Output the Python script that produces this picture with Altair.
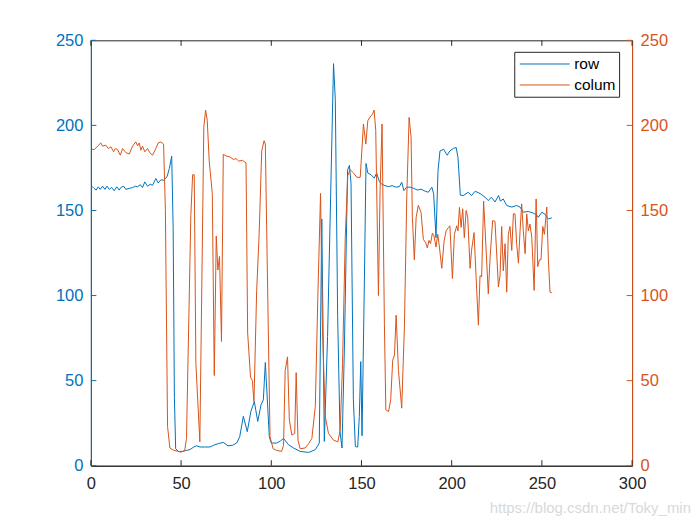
import altair as alt
import pandas as pd

# ---------------- data ----------------
row_x = [0.5, 1.7, 2.9, 4.1, 5.2, 6.5, 7.8, 8.9, 10.2, 11.5, 12.9, 14.4, 15.7, 16.6, 18.1, 19.4,
         21.3, 23.1, 24.9, 25.9, 27.4, 28.6, 29.9, 31.4, 32.9, 34.2, 36, 37.3, 38.8, 40.3, 42.2,
         43.5, 44.8, 45.6, 46.3, 47, 48.5, 51, 53, 55, 57, 58.6, 60.5, 63, 66, 68, 70.6, 73.4, 76,
         78.5, 80.8, 82.5, 84.5, 86.7, 88.7, 90.6, 92.5, 94.3, 95.6, 96.7, 98.9, 100, 103, 105,
         106.8, 109.6, 112.4, 116, 120.7, 124.4, 126.6, 128, 129.4, 131.2, 134.5, 135.5, 136.8,
         138.1, 139.2, 140.5, 142.3, 143.3, 144.2, 145.5, 146.6, 147.9, 148.8, 149.6, 150.3, 151.6,
         152.5, 153.5, 155.3, 157.1, 158.4, 159.9, 161, 163, 165, 167, 169, 171, 172.3, 173.5, 175,
         177, 179, 181, 183, 185, 187, 189, 190, 191.3, 192.4, 193.5, 195.5, 197.5, 199, 201, 202.5,
         203.5, 204.8, 206.5, 209.2, 211, 213, 215.7, 218.5, 220.3, 222, 224, 226, 227, 228.6,
         230.5, 233.3, 236, 237.9, 239.7, 242.5, 245.3, 247, 248, 250, 251.8, 253.6, 255.5]
row_y = [164.3, 163, 162, 163.9, 162.4, 164.3, 162.4, 164.3, 162.4, 163.5, 161.6, 163.9, 162, 163.5,
         164.3, 162.4, 163, 163.5, 164.3, 163.9, 165.2, 163.5, 166.8, 164.3, 165.4, 164.8, 168.8,
         166.2, 168, 167.8, 169.8, 174.7, 181.9, 140, 40, 10, 8.4, 8.4, 9, 9.5, 11, 11.7, 11, 11, 11,
         12, 13, 13.7, 11.7, 12, 13.3, 17, 29, 20, 32, 37.7, 26, 35.7, 38.7, 60.7, 17, 13.3, 13.3,
         14.5, 16, 12.3, 10.4, 8.4, 7.8, 9.4, 13.3, 145, 14.3, 75.9, 236.3, 214.8, 87.6, 20, 10.4,
         68, 173.7, 176.5, 166, 38.7, 11.2, 11, 29, 61.2, 17.6, 108, 177.6, 172, 171, 169, 172, 167,
         165.6, 164.6, 164, 164.6, 163.7, 164, 166.6, 161.7, 163.7, 163.7, 163, 162, 162.5, 161.5,
         160.7, 163.7, 159.8, 134, 173, 185, 186, 182.5, 185, 186.5, 187, 181, 159, 158.8, 160.7,
         158.8, 161.3, 160, 157.8, 155.8, 157.8, 155, 158.8, 155.5, 156.8, 152.9, 152, 152.9, 152,
         149, 149.4, 148.4, 147.5, 146, 149, 147.7, 145, 145.7]

colum_x = [0.5, 1.9, 3.7, 5.5, 6.5, 8.3, 9.6, 11.1, 12.6, 13.5, 14.8, 16.3, 17.6, 19.4, 21.3, 23.1,
           24.9, 25.9, 26.8, 27.7, 28.6, 29.9, 31.4, 32.9, 34.2, 36, 37.3, 38.8, 40.3, 41.3, 42.5,
           43.8, 46, 48, 50, 52, 53, 55.4, 56.4, 57.3, 58.2, 60.4, 62.6, 63.6, 64.5, 65.6, 67.3,
           68.4, 69.5, 70.4, 71.3, 72.4, 73.4, 75, 77, 79, 80.5, 82, 84, 86, 86.9, 88.5, 89.5, 90.4,
           91.9, 93.2, 94.7, 96, 96.7, 99.3, 101, 103, 105.7, 106.8, 107.7, 109, 110, 111.4, 113,
           113.8, 114.8, 116, 118.8, 120.7, 122.5, 124.4, 125.8, 127.3, 128.4, 129.9, 131.7, 134.5,
           136.9, 138.2, 139.5, 141, 142.4, 143.7, 145.6, 147.4, 149.3, 151.1, 152.4, 153.5, 154.8,
           156.1, 157, 157.9, 159.4, 160.3, 161.4, 162.7, 163.5, 165, 166.2, 167.3, 168.3, 169.2,
           170.5, 172.3, 173.8, 175.1, 176.4, 177.5, 178.2, 179.3, 180.3, 181.5, 183, 184.3, 185.6,
           186.5, 187.4, 188.3, 189.3, 190.2, 191.3, 192.3, 193.2, 194.5, 195.8, 196.9, 198.2, 199,
           200.4, 201.5, 202.8, 203.5, 204.3, 205.2, 206.1, 207, 208, 208.9, 210.2, 211, 212.4,
           213.5, 214.8, 215.7, 216.6, 217.7, 219, 220.3, 221.3, 222.7, 224, 224.9, 225.9, 226.8,
           227.7, 228.6, 229.6, 230.5, 231.4, 232.3, 233.3, 234.2, 235.1, 236, 237, 237.9, 238.8,
           239.7, 240.7, 241.6, 242.5, 243.4, 244.4, 245.7, 246.8, 247.7, 248.6, 249.5, 250.5,
           251.4, 252.7, 253.6, 254.5, 255.5]
colum_y = [186, 185.8, 187.8, 189.7, 187.8, 188.4, 186.4, 187.4, 184.5, 186.4, 185.8, 182.5, 186.4,
           184, 183.2, 187.8, 190.3, 188, 189.7, 185.4, 187.8, 184.5, 186.4, 183.6, 182.5, 186.4,
           189.7, 190.3, 189, 150, 23, 10.4, 9, 8.5, 8, 9, 16, 147, 171, 171, 60, 14, 199, 209, 203,
           179, 160, 53, 135, 115, 123, 73, 183, 182, 181.5, 180, 180.5, 179, 179.5, 178, 78, 52, 50,
           37.7, 103, 134, 185, 191, 189, 17, 10, 9, 8.4, 12, 56, 64, 27, 18, 19, 54.7, 15, 10, 10.4,
           13, 16, 34.8, 99, 160, 80, 29, 19, 15, 14, 21, 60, 134, 170.5, 174, 172, 169.5, 169.5,
           200.8, 189, 202.7, 205, 206.6, 209, 197, 100, 161.7, 200.8, 83.6, 32.8, 31.8, 38.7, 62,
           65, 88.5, 56, 33.8, 81.6, 158, 204.7, 193, 146, 121, 146, 153, 149, 133, 131, 128, 132.4,
           130.5, 136.7, 135, 128.5, 136, 128.5, 116, 132, 138, 140, 141, 110, 136, 141, 138, 151.8,
           140, 151, 134, 150, 146, 116, 126.5, 137, 111.7, 82.6, 111.7, 111, 155.5, 128.5, 101,
           122.6, 144, 143.7, 125.6, 105, 111.8, 140.6, 114.5, 130.5, 102, 136, 140.6, 126.5, 148,
           148, 130.5, 119, 138, 153.9, 138, 124.6, 148, 138, 142, 134, 103, 156.8, 117, 121, 121,
           140.6, 136, 152, 121, 102, 101.6]

x_ticks = [0, 50, 100, 150, 200, 250, 300]
y_ticks = [0, 50, 100, 150, 200, 250]
series_names = ["row", "colum"]
watermark = ["https://blog.csdn.net/Toky_min"]

# ---------------- styling ----------------
BLUE = "#0072BD"
ORANGE = "#D95319"
DARK = "#262626"
FONT = "Liberation Sans"
W, H = 542, 426
TICK = 5.5

row_df = pd.DataFrame({"x": row_x, "v": row_y})
col_df = pd.DataFrame({"x": colum_x, "v": colum_y})
xt_df = pd.DataFrame({"t": x_ticks})
yt_df = pd.DataFrame({"t": y_ticks})

x_scale = alt.Scale(domain=[0, 300], nice=False, zero=False)
y_scale = alt.Scale(domain=[0, 250], nice=False, zero=False)

x_axis = alt.Axis(values=x_ticks, title=None, grid=False, ticks=False, domainColor=DARK,
                  domainWidth=1, labelColor=DARK, labelFont=FONT, labelFontSize=16.5,
                  labelPadding=10, format="d", labelFlush=False)


def y_axis(orient, color):
    return alt.Axis(orient=orient, values=y_ticks, title=None, grid=False, ticks=False,
                    domainColor=color, domainWidth=1, labelColor=color, labelFont=FONT,
                    labelFontSize=16.5, labelPadding=8, format="d", labelFlush=False)


row_line = alt.Chart(row_df).mark_line(color=BLUE, strokeWidth=1).encode(
    x=alt.X("x:Q", scale=x_scale, axis=x_axis),
    y=alt.Y("v:Q", scale=y_scale, axis=y_axis("left", BLUE)),
)
col_line = alt.Chart(col_df).mark_line(color=ORANGE, strokeWidth=1).encode(
    x=alt.X("x:Q", scale=x_scale, axis=x_axis),
    y=alt.Y("v:Q", scale=y_scale, axis=y_axis("right", ORANGE)),
)

# inward ticks (MATLAB style)
xt_bottom = alt.Chart(xt_df).mark_rule(color=DARK, strokeWidth=1).encode(
    x=alt.X("t:Q", scale=x_scale, axis=x_axis), y=alt.value(H), y2=alt.value(H - TICK))
xt_top = alt.Chart(xt_df).mark_rule(color=DARK, strokeWidth=1).encode(
    x=alt.X("t:Q", scale=x_scale, axis=x_axis), y=alt.value(0), y2=alt.value(TICK))
yt_left = alt.Chart(yt_df).mark_rule(color=BLUE, strokeWidth=1).encode(
    y=alt.Y("t:Q", scale=y_scale, axis=None), x=alt.value(0), x2=alt.value(TICK))
yt_right = alt.Chart(yt_df).mark_rule(color=ORANGE, strokeWidth=1).encode(
    y=alt.Y("t:Q", scale=y_scale, axis=None), x=alt.value(W), x2=alt.value(W - TICK))

# legend box
leg_box = alt.Chart(pd.DataFrame({"n": [0]})).mark_rect(
    fill="white", stroke=DARK, strokeWidth=1).encode(
    x=alt.value(424.5), x2=alt.value(529.5), y=alt.value(12), y2=alt.value(57))

leg_layers = []
for i, (name, color) in enumerate(zip(series_names, [BLUE, ORANGE])):
    yy = 23.7 + 21 * i
    ndf = pd.DataFrame({"name": [name]})
    leg_layers.append(alt.Chart(ndf).mark_rule(color=color, strokeWidth=1).encode(
        x=alt.value(429.5), x2=alt.value(479.5), y=alt.value(yy)))
    leg_layers.append(alt.Chart(ndf).mark_text(
        align="left", baseline="middle", font=FONT, fontSize=15.5, color="#000000").encode(
        text="name:N", x=alt.value(484), y=alt.value(yy)))

wm = alt.Chart(pd.DataFrame({"w": watermark})).mark_text(
    align="right", baseline="middle", font=FONT, fontSize=15, color="#d9d9d9").encode(
    text="w:N", x=alt.value(601), y=alt.value(468))

chart = alt.layer(
    row_line, col_line, xt_bottom, xt_top, yt_left, yt_right, leg_box, *leg_layers, wm
).resolve_scale(y="independent").properties(
    width=W, height=H,
    autosize=alt.AutoSizeParams(type="none"),
    padding={"left": 83, "top": 32, "right": 60, "bottom": 55},
    background="white",
).configure_view(stroke=DARK, strokeWidth=1)

chart.save("out.html", embed_options={"renderer": "svg", "actions": False})
